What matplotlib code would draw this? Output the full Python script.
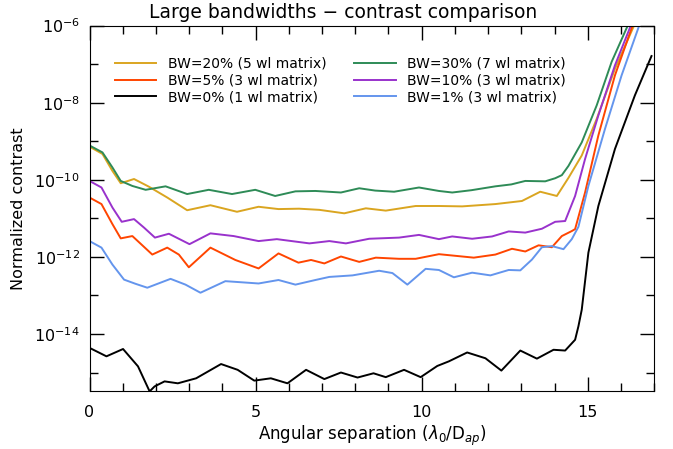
import numpy as np
import matplotlib
matplotlib.use('Agg')
import matplotlib.pyplot as plt
from matplotlib.ticker import FixedLocator, FixedFormatter

# Kurven: x in lambda0/D, Werte als Exponent log10(Kontrast)
x_bw30 = [0.0, 0.39, 0.69, 0.94, 1.29, 1.69, 2.29, 2.94, 3.59, 4.29, 4.99, 5.59, 6.2, 6.8,
          7.57, 8.12, 8.6, 9.17, 9.92, 10.52, 10.92, 11.5, 12.22, 12.7, 13.12, 13.72, 14.02,
          14.22, 14.42, 14.82, 15.27, 15.72, 16.23]
e_bw30 = [-9.11, -9.29, -9.68, -10.03, -10.16, -10.26, -10.17, -10.37, -10.26, -10.37, -10.26,
          -10.42, -10.30, -10.29, -10.33, -10.22, -10.28, -10.31, -10.20, -10.29, -10.33, -10.27,
          -10.17, -10.12, -10.03, -10.04, -9.96, -9.88, -9.64, -9.03, -8.07, -6.94, -5.95]

x_bw20 = [0.0, 0.39, 0.69, 0.94, 1.34, 1.79, 2.34, 2.94, 3.64, 4.44, 5.09, 5.69, 6.31, 6.92,
          7.67, 8.32, 8.92, 9.82, 10.52, 11.22, 12.22, 13.02, 13.57, 14.07, 14.42, 14.82,
          15.27, 15.82, 16.42]
e_bw20 = [-9.14, -9.33, -9.77, -10.09, -9.98, -10.18, -10.46, -10.79, -10.66, -10.83, -10.70,
          -10.76, -10.75, -10.78, -10.87, -10.74, -10.80, -10.68, -10.68, -10.69, -10.63, -10.55,
          -10.31, -10.42, -9.95, -9.37, -8.42, -7.12, -5.95]

x_bw10 = [0.0, 0.36, 0.69, 0.97, 1.34, 1.64, 1.97, 2.39, 3.01, 3.64, 4.34, 5.09, 5.64, 6.62,
          7.22, 7.72, 8.42, 9.32, 9.92, 10.52, 10.92, 11.52, 12.12, 12.62, 13.12, 13.62, 14.02,
          14.32, 14.62, 14.92, 15.32, 15.82, 16.32]
e_bw10 = [-10.03, -10.20, -10.72, -11.09, -11.02, -11.24, -11.50, -11.40, -11.67, -11.39,
          -11.46, -11.59, -11.54, -11.65, -11.59, -11.65, -11.53, -11.50, -11.43, -11.54, -11.47,
          -11.53, -11.47, -11.34, -11.37, -11.27, -11.09, -11.07, -10.42, -9.46, -8.33, -7.03,
          -5.95]

x_bw5 = [0.0, 0.36, 0.69, 0.94, 1.29, 1.89, 2.34, 2.69, 2.99, 3.64, 4.39, 5.09, 5.69, 6.29,
         6.67, 7.07, 7.57, 8.12, 8.62, 9.32, 9.82, 10.52, 11.57, 12.22, 12.72, 13.12, 13.52,
         13.92, 14.22, 14.52, 14.62, 14.92, 15.32, 15.82, 16.37]
e_bw5 = [-10.46, -10.63, -11.15, -11.52, -11.46, -11.94, -11.76, -11.94, -12.27, -11.76, -12.08,
         -12.30, -11.91, -12.15, -12.08, -12.17, -11.99, -12.13, -12.02, -12.05, -12.05, -11.93,
         -12.02, -11.94, -11.79, -11.86, -11.70, -11.75, -11.46, -11.33, -11.28, -10.33, -8.85,
         -7.29, -5.95]

x_bw1 = [0.0, 0.36, 0.69, 1.04, 1.39, 1.74, 2.44, 2.89, 3.34, 4.09, 5.09, 5.69, 6.2, 6.8,
         7.22, 7.92, 8.72, 9.12, 9.57, 10.12, 10.52, 10.97, 11.52, 12.07, 12.62, 12.97, 13.32,
         13.62, 13.92, 14.27, 14.52, 14.72, 15.02, 15.52, 16.02, 16.57]
e_bw1 = [-11.59, -11.76, -12.20, -12.59, -12.70, -12.80, -12.57, -12.72, -12.93, -12.63,
         -12.69, -12.60, -12.72, -12.60, -12.52, -12.48, -12.36, -12.42, -12.72, -12.31, -12.34,
         -12.53, -12.41, -12.48, -12.34, -12.35, -12.07, -11.75, -11.72, -11.80, -11.54, -11.22,
         -10.16, -8.68, -7.29, -5.95]

x_bw0 = [0.0, 0.51, 1.01, 1.46, 1.81, 1.96, 2.26, 2.66, 3.21, 3.96, 4.46, 4.96, 5.46, 5.96,
         6.52, 7.07, 7.57, 8.07, 8.55, 8.92, 9.47, 9.97, 10.47, 10.82, 11.37, 11.92, 12.40,
         12.97, 13.47, 13.97, 14.32, 14.62, 14.72, 14.82, 15.02, 15.32, 15.82, 16.42, 16.92]
e_bw0 = [-14.36, -14.58, -14.39, -14.84, -15.49, -15.36, -15.23, -15.28, -15.15, -14.78, -14.93,
         -15.21, -15.15, -15.28, -14.93, -15.17, -15.00, -15.13, -15.02, -15.12, -14.93, -15.12,
         -14.83, -14.71, -14.48, -14.63, -14.95, -14.43, -14.64, -14.41, -14.43, -14.15, -13.80,
         -13.37, -11.89, -10.68, -9.20, -7.81, -6.79]

# Reihenfolge wie in der Legende (Spalte 1, dann Spalte 2)
series = [
    ('BW=20% (5 wl matrix)', x_bw20, e_bw20, '#DAA520'),
    ('BW=5% (3 wl matrix)', x_bw5, e_bw5, '#FF4500'),
    ('BW=0% (1 wl matrix)', x_bw0, e_bw0, 'black'),
    ('BW=30% (7 wl matrix)', x_bw30, e_bw30, '#2E8B57'),
    ('BW=10% (3 wl matrix)', x_bw10, e_bw10, '#9932CC'),
    ('BW=1% (3 wl matrix)', x_bw1, e_bw1, '#6495ED'),
]

fig = plt.figure(figsize=(6.73, 4.49), dpi=100)
ax = fig.add_axes([0.133, 0.129, 0.839, 0.814])

for label, xs, es, col in series:
    ax.plot(xs, 10.0 ** np.array(es), color=col, lw=1.4, label=label,
            solid_joinstyle='round')

ax.set_yscale('log')
ax.set_xlim(0, 17)
ax.set_ylim(3.3e-16, 1e-6)

# Achsen im IDL-Stil
ax.xaxis.set_major_locator(FixedLocator([0, 5, 10, 15]))
ax.xaxis.set_minor_locator(FixedLocator(np.arange(0, 18, 1)))
ymaj = [1e-14, 1e-12, 1e-10, 1e-8, 1e-6]
ax.yaxis.set_major_locator(FixedLocator(ymaj))
ax.yaxis.set_major_formatter(FixedFormatter([r'$10^{-14}$', r'$10^{-12}$', r'$10^{-10}$',
                                             r'$10^{-8}$', r'$10^{-6}$']))
ax.yaxis.set_minor_locator(FixedLocator([1e-15, 1e-13, 1e-11, 1e-9, 1e-7]))
ax.yaxis.set_minor_formatter(FixedFormatter([]))
ax.tick_params(which='both', direction='in', top=True, right=True, labelsize=11.5, width=1)
ax.tick_params(which='major', length=10, pad=7)
ax.tick_params(axis='x', which='major', pad=10)
ax.tick_params(which='minor', length=6)

fig.text(0.51, 0.973, 'Large bandwidths \u2212 contrast comparison', fontsize=13.5,
         ha='center', va='center')
ax.set_xlabel(r'Angular separation ($\lambda_0$/D$_{ap}$)', fontsize=12, labelpad=3)
ax.set_ylabel('Normalized contrast', fontsize=11.5, labelpad=6)

ax.legend(loc='upper left', bbox_to_anchor=(0.035, 0.93), ncol=2, frameon=False,
          fontsize=10, handlelength=3.0, handletextpad=0.8, labelspacing=0.2,
          columnspacing=2.0, borderaxespad=0)

fig.savefig('out.png', dpi=100)
